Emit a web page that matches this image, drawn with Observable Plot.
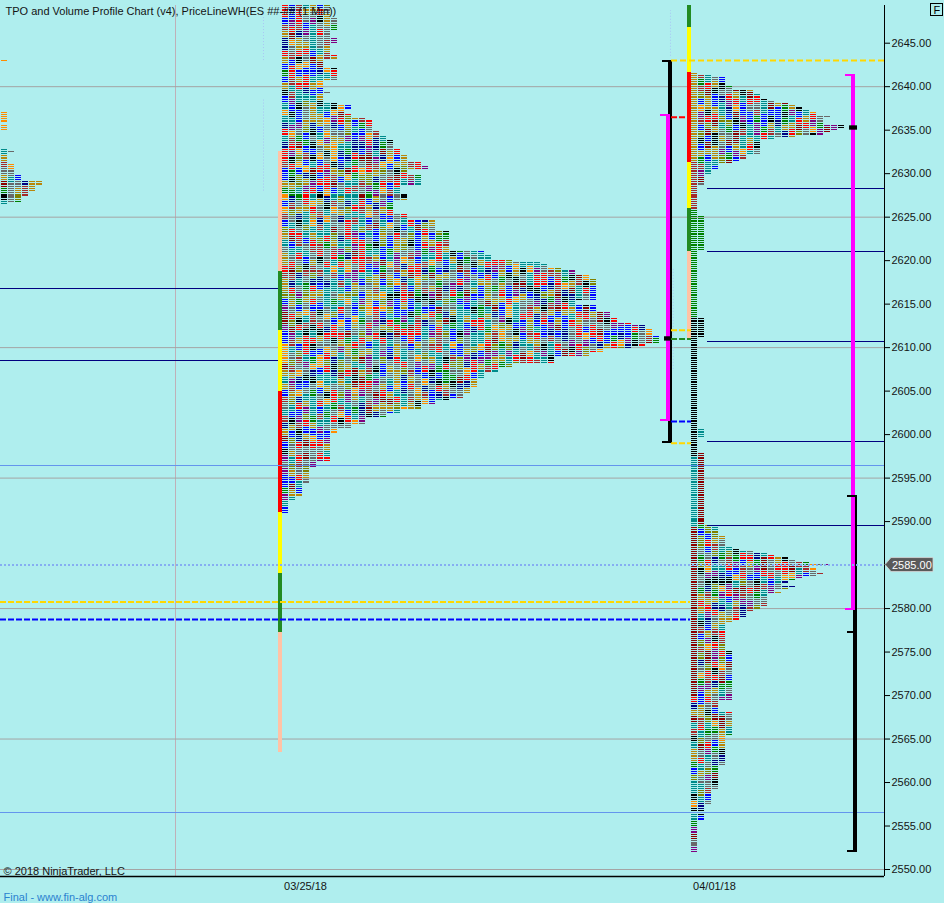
<!DOCTYPE html>
<html><head><meta charset="utf-8">
<script src="https://cdn.jsdelivr.net/npm/d3@7"></script>
<script src="https://cdn.jsdelivr.net/npm/@observablehq/plot@0.6"></script>
<style>
html,body{margin:0;padding:0;background:#afeeee;}
#chart{width:944px;height:903px;}
</style></head><body><div id="chart"></div>
<script>
// ---------- data ----------
const titleText = "TPO and Volume Profile Chart (v4), PriceLineWH(ES ##-## (1 Min))";
const copyrightText = "© 2018 NinjaTrader, LLC";
const footerText = "Final - www.fin-alg.com";
const yTicks = [2550,2555,2560,2565,2570,2575,2580,2590,2595,2600,2605,2610,2615,2620,2625,2630,2635,2640,2645];
const gridPrices = [2550,2565,2580,2595,2610,2625,2640];
const dateTicks = [43.57, 102.0];            // slot positions of the date labels
const dateLabels = ["03/25/18", "04/01/18"];
const sessionStarts = [0.15, 40.29, 98.71];   // slot where each session's first TPO column starts
const lastPrice = 2585.00;

// profile rows: [high price, low price, number of TPO columns], rows every 0.25
const prevRows = [[2643.0,2643.0,1],[2637.0,2636.0,1],[2635.5,2635.0,1],[2632.75,2632.75,1],[2632.5,2632.5,2],[2632.25,2631.25,1],[2631.0,2630.0,2],[2629.75,2629.25,3],[2629.0,2628.75,6],[2628.5,2628.0,5],[2627.75,2627.5,4],[2627.25,2626.75,3],[2626.5,2626.5,1]];
const p1Rows = [
[2649.25,2648.0,7],[2647.75,2646.5,8],[2646.25,2645.75,7],[2645.5,2645.0,8],[2644.75,2643.75,7],[2643.5,2643.25,8],[2643.0,2642.25,6],[2642.0,2640.75,8],[2640.5,2639.5,6],[2639.25,2639.25,7],[2639.0,2638.25,6],[2638.0,2638.0,8],[2637.75,2637.5,10],[2637.25,2637.0,9],[2636.75,2636.5,10],[2636.25,2636.25,12],[2636.0,2635.0,13],[2634.75,2634.5,14],[2634.25,2634.0,15],[2633.75,2633.0,16],[2632.75,2632.25,17],[2632.0,2631.5,18],[2631.25,2631.0,20],[2630.75,2630.5,21],[2630.25,2630.0,18],[2629.75,2628.75,20],[2628.5,2627.75,17],[2627.5,2627.0,18],[2626.75,2625.5,16],[2625.25,2624.75,18],[2624.5,2623.5,22],[2623.25,2621.25,24],[2621.0,2620.75,29],[2620.5,2620.25,30],[2620.0,2620.0,33],[2619.75,2619.75,37],[2619.5,2619.25,38],[2619.0,2619.0,40],[2618.75,2618.5,42],[2618.25,2618.0,44],[2617.75,2615.5,45],[2615.25,2615.0,42],[2614.75,2614.25,45],[2614.0,2613.5,47],[2613.25,2613.0,48],[2612.75,2612.75,50],[2612.5,2612.25,52],[2612.0,2611.5,53],[2611.25,2610.5,54],[2610.25,2610.25,52],[2610.0,2610.0,50],[2609.75,2609.5,46],[2609.25,2609.0,44],[2608.75,2608.25,39],[2608.0,2607.75,33],[2607.5,2607.25,31],[2607.0,2606.5,29],[2606.25,2605.5,28],[2605.25,2604.75,27],[2604.5,2604.25,26],[2604.0,2604.0,24],[2603.75,2603.5,22],[2603.25,2603.0,20],[2602.75,2602.5,17],[2602.25,2602.0,15],[2601.75,2601.25,12],[2601.0,2600.75,10],[2600.5,2600.25,8],[2600.0,2597.0,7],[2596.75,2596.25,5],[2596.0,2594.5,4],[2594.25,2593.0,3],[2592.75,2592.5,2],[2592.25,2591.0,1]];
const p2Rows = [
[2641.5,2641.5,1],[2641.25,2641.25,3],[2641.0,2640.25,5],[2640.0,2639.75,6],[2639.5,2639.25,9],[2639.0,2638.75,10],[2638.5,2638.5,11],[2638.25,2638.25,12],[2638.0,2638.0,14],[2637.75,2637.75,15],[2637.5,2637.5,16],[2637.25,2637.25,17],[2637.0,2636.75,18],[2636.5,2636.5,20],[2636.25,2635.75,19],[2635.5,2635.25,22],[2635.0,2635.0,21],[2634.75,2634.75,20],[2634.5,2634.5,19],[2634.25,2634.25,15],[2634.0,2634.0,12],[2633.75,2632.25,10],[2632.0,2631.75,8],[2631.5,2631.5,7],[2631.25,2631.25,6],[2631.0,2630.5,4],[2630.25,2630.0,3],[2629.75,2628.75,2],[2628.5,2625.25,1],[2625.0,2621.25,2],[2621.0,2613.5,1],[2613.25,2611.25,2],[2611.0,2600.75,1],[2600.5,2599.75,2],[2599.5,2598.0,1],[2597.75,2589.75,2],
[2589.5,2589.5,3],[2589.25,2588.5,4],[2588.25,2587.25,5],[2587.0,2587.0,6],[2586.75,2586.75,7],[2586.5,2586.5,9],[2586.25,2586.25,11],[2586.0,2586.0,12],[2585.75,2585.75,14],[2585.5,2585.5,15],[2585.25,2585.25,17],[2585.0,2585.0,20],[2584.75,2584.75,17],[2584.5,2584.25,18],[2584.0,2584.0,19],[2583.75,2583.75,18],[2583.5,2583.5,16],[2583.25,2583.25,15],[2583.0,2583.0,14],[2582.75,2582.75,13],[2582.5,2582.5,15],[2582.25,2582.25,14],[2582.0,2582.0,12],[2581.75,2581.75,13],[2581.5,2580.25,11],[2580.0,2580.0,10],[2579.75,2579.75,9],[2579.5,2579.0,8],[2578.75,2578.75,7],[2578.5,2578.5,6],[2578.25,2575.25,5],[2575.0,2569.5,6],[2569.25,2568.25,4],[2568.0,2565.5,6],[2565.25,2562.0,5],[2561.75,2559.25,4],[2559.0,2557.5,3],[2557.25,2555.75,2],[2555.5,2552.0,1]];
const profiles = [prevRows, p1Rows, p2Rows];

// fixed colour runs: [session, column, high, low, colour]
const colorBands = [
[0,0,2643.0,2634.0,"#ff8c00"],
[2,0,2641.5,2631.5,"#b8860b"],[2,0,2631.25,2626.0,"#a52a2a"],[2,0,2625.75,2613.5,"#008000"],[2,1,2625.0,2621.25,"#008000"],
[2,0,2613.25,2597.5,"#000000"],[2,1,2613.25,2611.25,"#000000"],[2,0,2597.25,2589.5,"#008b8b"],[2,1,2600.5,2599.75,"#008b8b"],
[2,1,2597.75,2589.75,"#8b0000"],[2,0,2589.25,2570.0,"#8b0000"]];
const palette = ["#ff0000","#a52a2a","#8b0000","#ff8c00","#b8860b","#808000","#008000","#008b8b","#0000ff","#000080","#800080","#000000","#696969","#b8860b","#696969","#008b8b","#ff0000","#0000ff"];

// session range bars: [session, high, low, colour]
const sessionBars = [
[1,2632.5,2618.75,"#ffc3a6"],[1,2618.75,2612.0,"#228b22"],[1,2612.0,2605.0,"#ffff00"],[1,2605.0,2591.0,"#ff0000"],[1,2591.0,2584.0,"#ffff00"],[1,2584.0,2577.25,"#228b22"],[1,2577.25,2563.5,"#ffc3a6"],
[2,2650.0,2646.75,"#228b22"],[2,2646.75,2641.66,"#ffff00"],[2,2641.66,2631.25,"#ff0000"],[2,2631.25,2626.0,"#ffff00"],[2,2626.0,2621.0,"#228b22"],[2,2621.0,2610.85,"#ffc3a6"]];

// value-area / range brackets: vertical slot x1,x2, cap start, high, low, colour
const brackets = [
{x1:95.43,x2:96.0,cap:94.57,hi:2643.0,lo:2599.0,color:"#000000"},
{x1:95.14,x2:95.71,cap:94.29,hi:2636.75,lo:2601.5,color:"#ff00ff"},
{x1:121.86,x2:122.43,cap:121.0,hi:2593.0,lo:2552.0,color:"#000000"},
{x1:121.57,x2:122.14,cap:120.71,hi:2641.4,lo:2579.75,color:"#ff00ff"}];
const extraCaps = [{x1:121.0,x2:122.0,p:2577.25,color:"#000000"}];
const pocMarks = [{x1:94.86,x2:96.0,p:2611.0},{x1:121.29,x2:122.43,p:2635.25}];

// horizontal level lines
const solidLevels = [
{p:2616.75,x1:0,x2:39.71,color:"#000080"},{p:2608.5,x1:0,x2:39.71,color:"#000080"},
{p:2628.25,x1:101.0,x2:126.29,color:"#000080"},{p:2621.0,x1:101.0,x2:126.29,color:"#000080"},{p:2610.75,x1:101.0,x2:126.29,color:"#000080"},{p:2599.25,x1:101.0,x2:126.29,color:"#000080"},{p:2589.5,x1:101.0,x2:126.29,color:"#000080"},
{p:2596.5,x1:0,x2:126.29,color:"#6495ed"},{p:2556.5,x1:0,x2:126.29,color:"#6495ed"}];
const longDashed = [{p:2643.0,x1:95.86,x2:126.29,color:"#ffd700"}];
const dashedLevels = [
{p:2580.75,x1:0,x2:98.57,color:"#ffd700"},
{p:2578.75,x1:0,x2:98.57,color:"#0000ff"},
{p:2636.5,x1:95.86,x2:98.0,color:"#ff0000"},
{p:2612.0,x1:95.86,x2:98.71,color:"#ffd700"},
{p:2611.0,x1:95.86,x2:98.71,color:"#228b22"},
{p:2601.5,x1:95.86,x2:98.71,color:"#0000ff"},
{p:2599.0,x1:95.86,x2:98.71,color:"#ffd700"}];
const dottedVerticals = [
{x:37.57,hi:2648.0,lo:2643.0},{x:37.57,hi:2638.5,lo:2628.0},{x:95.71,hi:2648.75,lo:2643.5},{x:96.1,hi:2619.0,lo:2607.5}];
const verticalGrid = [25.0];

// ---------- build cells ----------
function hashColor(s, col, row) {
  const block = Math.floor((row + (col * 5) % 7) / 3);
  let h = (Math.imul(s + 7, 374761393) + Math.imul(col + 11, 668265263) + Math.imul(block + 3, 2246822519)) | 0;
  h = Math.imul(h ^ (h >>> 13), 1274126177);
  h ^= h >>> 16;
  return palette[(h >>> 0) % palette.length];
}
const cells = [];
profiles.forEach((rows, s) => {
  for (const [hi, lo, w] of rows) {
    for (let p = hi; p >= lo - 1e-9; p -= 0.25) {
      const row = Math.round((2650 - p) * 4);
      for (let c = 0; c < w; c++) {
        let color = hashColor(s, c, row);
        for (const [bs, bc, bh, bl, col] of colorBands) if (bs === s && bc === c && p <= bh + 1e-9 && p >= bl - 1e-9) color = col;
        cells.push({x: sessionStarts[s] + c, p, color});
      }
    }
  }
});

const H = 0.068; // half row thickness in price units
const capH = 0.23;
const capRects = [];
for (const b of brackets) {
  capRects.push({x1: b.cap, x2: b.x2, y1: b.hi - capH, y2: b.hi, color: b.color});
  capRects.push({x1: b.cap, x2: b.x2, y1: b.lo, y2: b.lo + capH, color: b.color});
}
for (const c of extraCaps) capRects.push({x1: c.x1, x2: c.x2, y1: c.p - capH/2, y2: c.p + capH/2, color: c.color});
const font = "'Liberation Sans', Arial, Helvetica, sans-serif";

const plot = Plot.plot({
  width: 944, height: 903,
  marginLeft: 0, marginRight: 60, marginTop: 5, marginBottom: 27,
  x: {domain: [0, 884/7], range: [0, 884]},
  y: {domain: [2549.196, 2649.334]},
  style: {background: "#afeeee", fontFamily: font, fontSize: "11px", overflow: "visible"},
  marks: [
    Plot.ruleX(verticalGrid, {stroke: "#bfb0b8", strokeWidth: 1}),
    Plot.ruleY(gridPrices, {stroke: "#a4a4a4", strokeWidth: 1}),
    Plot.ruleX(dottedVerticals, {x: "x", y1: "lo", y2: "hi", stroke: "#a9c4f5", strokeWidth: 1, strokeDasharray: "1,2"}),
    Plot.rect(cells, {x1: "x", x2: d => d.x + 6/7, y1: d => d.p - H, y2: d => d.p + H, fill: "color", shapeRendering: "crispEdges"}),
    Plot.rect(sessionBars, {x1: d => sessionStarts[d[0]] - 4/7, x2: d => sessionStarts[d[0]], y1: d => d[2], y2: d => d[1], fill: d => d[3], clip: true, shapeRendering: "crispEdges"}),
    Plot.ruleY(solidLevels, {y: "p", x1: "x1", x2: "x2", stroke: "color", strokeWidth: 1, shapeRendering: "crispEdges"}),
    Plot.rect(brackets, {x1: "x1", x2: "x2", y1: "lo", y2: "hi", fill: "color", shapeRendering: "crispEdges"}),
    Plot.rect(capRects, {x1: "x1", x2: "x2", y1: "y1", y2: "y2", fill: "color", shapeRendering: "crispEdges"}),
    Plot.rect(pocMarks, {x1: "x1", x2: "x2", y1: d => d.p - 0.25, y2: d => d.p + 0.25, fill: "#000"}),
    Plot.ruleY(longDashed, {y: "p", x1: "x1", x2: "x2", stroke: "color", strokeWidth: 2, strokeDasharray: "6,3"}),
    Plot.ruleY(dashedLevels, {y: "p", x1: "x1", x2: "x2", stroke: "color", strokeWidth: 2, strokeDasharray: "6,2"}),
    Plot.ruleY([lastPrice], {x1: 0, x2: 884/7, stroke: "#86aef2", strokeWidth: 2, strokeDasharray: "2,2"}),
    Plot.ruleX([884/7], {stroke: "#000", strokeWidth: 1}),
    Plot.ruleY([2549.196], {stroke: "#000", strokeWidth: 1.5}),
    Plot.axisY({anchor: "right", ticks: yTicks, tickFormat: d => d.toFixed(2), tickSize: 5, tickPadding: 2, fontSize: 11, label: null, fill: "#141414"}),
    Plot.axisX({anchor: "bottom", ticks: dateTicks, tickFormat: d => dateLabels[dateTicks.indexOf(d)], tickSize: 0, tickPadding: 6, fontSize: 11, label: null, fill: "#141414"}),
    Plot.text([titleText], {text: d => d, frameAnchor: "top-left", dx: 5, dy: 2, lineAnchor: "top", textAnchor: "start", fontSize: 11, fill: "#141414"}),
    Plot.text([copyrightText], {text: d => d, frameAnchor: "bottom-left", dx: 3, dy: -2, lineAnchor: "bottom", textAnchor: "start", fontSize: 11, fill: "#141414"}),
    Plot.text([footerText], {text: d => d, frameAnchor: "bottom-left", dx: 3, dy: 24, lineAnchor: "bottom", textAnchor: "start", fontSize: 11, fill: "#2a82d0"})
  ]
});

// last-price flag on the right axis, and the "F" box
const svg = d3.select(plot);
const yy = plot.scale("y").apply(lastPrice);
svg.append("line").attr("x1", 884).attr("x2", 889).attr("y1", yy).attr("y2", yy).attr("stroke", "#000");
const flag = svg.append("g").attr("text-anchor", "start");
flag.append("path").attr("d", `M885,${yy} L891,${yy-7} L933,${yy-7} L933,${yy+7} L891,${yy+7} Z`).attr("fill", "#5a5a5a").attr("stroke", "#d8d8d8").attr("stroke-width", 0.8);
flag.append("text").attr("x", 892).attr("y", yy + 4).attr("text-anchor", "start").attr("fill", "#fff").attr("font-size", 11).attr("font-family", font).text(lastPrice.toFixed(2));
const fbox = svg.append("g").attr("text-anchor", "start");
fbox.append("rect").attr("x", 930.5).attr("y", 3.5).attr("width", 12).attr("height", 12).attr("fill", "none").attr("stroke", "#000");
fbox.append("text").attr("x", 933.5).attr("y", 13.5).attr("text-anchor", "start").attr("font-size", 11).attr("font-family", font).attr("fill", "#000").text("F");
document.getElementById("chart").append(plot);
</script>
</body></html>
